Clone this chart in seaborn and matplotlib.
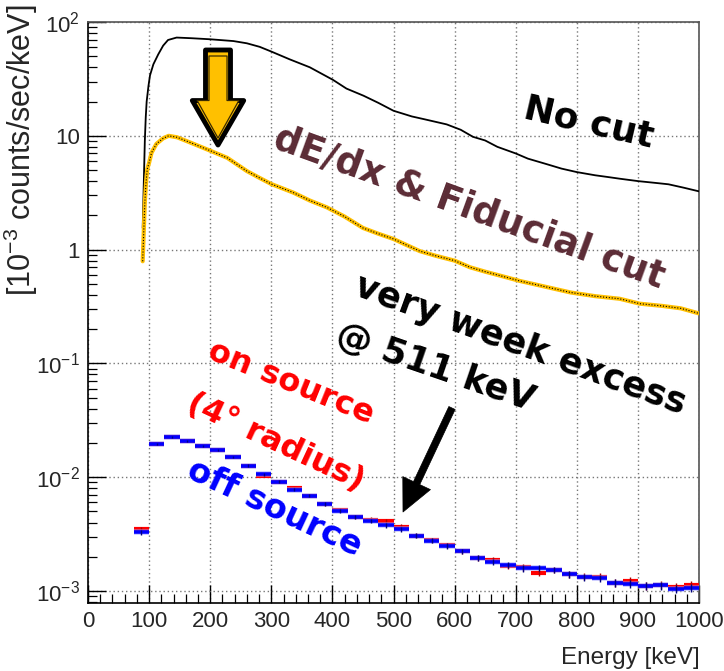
import numpy as np
import pandas as pd
import matplotlib
matplotlib.use("Agg")
import matplotlib.pyplot as plt
import seaborn as sns
from matplotlib.ticker import FixedLocator, FixedFormatter, MultipleLocator, LogLocator, NullFormatter

# ---------------- data ----------------
nocut_E = [89.5, 93, 94.5, 96, 99, 101.5, 107, 115, 123, 131, 145, 170, 200, 238, 260, 281, 300,
           330, 363, 401, 423, 451, 475, 500, 530, 550, 587, 610, 630, 650, 670, 700, 720, 750,
           775, 800, 830, 850, 870, 900, 930, 950, 975, 1000]
nocut_V = [1.55, 9.0, 14.5, 20, 27.5, 34, 42.5, 52, 62, 69.5, 73, 72, 70.5, 68, 65, 60.5, 55,
           47, 40, 31, 26, 22.5, 19.5, 16.6, 14.8, 14.0, 12.6, 11.3, 9.8, 9.1, 8.0, 7.0, 6.3, 5.65,
           5.15, 4.8, 4.5, 4.35, 4.2, 4.0, 3.85, 3.75, 3.5, 3.25]

cut_E = [89.5, 93, 95, 97, 100, 104, 112, 123, 132, 146, 168, 200, 228, 260, 281, 300, 336, 363,
         391, 420, 450, 475, 500, 543, 570, 600, 625, 650, 680, 707, 750, 790, 830, 870, 903, 940,
         970, 1000]
cut_V = [0.79, 2.6, 3.9, 5.1, 5.8, 7.1, 8.5, 9.5, 10.0, 9.7, 8.7, 7.4, 6.4, 4.9, 4.26, 3.77, 3.17,
         2.7, 2.35, 1.95, 1.55, 1.38, 1.24, 0.97, 0.88, 0.80, 0.70, 0.64, 0.58, 0.53, 0.47, 0.42,
         0.39, 0.37, 0.335, 0.32, 0.305, 0.275]

bin_width = 25
bin_lo = 75
on_source = [3.48e-3, 0.0196, 0.0226, 0.0207, 0.0190, 0.0175, 0.0150, 0.0126, 0.0103, 0.0091,
             0.0080, 0.0069, 0.00583, 0.0052, 0.0045, 0.00425, 0.00414, 0.00367, 0.00306, 0.00280,
             0.00252, 0.00223, 0.00197, 0.00188, 0.00165, 0.00162, 0.00145, 0.00153, 0.00140,
             0.00134, 0.00134, 0.00118, 0.00123, 0.00111, 0.00114, 0.00109, 0.00114]
off_source = [3.27e-3, 0.0196, 0.0224, 0.0209, 0.0190, 0.0173, 0.0150, 0.0126, 0.0106, 0.0091,
              0.0078, 0.0069, 0.00583, 0.0051, 0.0045, 0.00414, 0.00377, 0.00348, 0.00306, 0.00276,
              0.00248, 0.00223, 0.00197, 0.00181, 0.00171, 0.00158, 0.00159, 0.00153, 0.00140,
              0.00132, 0.00130, 0.00118, 0.00116, 0.00111, 0.00112, 0.00105, 0.00107]
rel_err = [0.05, 0.02, 0.02, 0.02, 0.02, 0.025, 0.025, 0.03, 0.03, 0.03, 0.035, 0.035, 0.04, 0.04,
           0.04, 0.045, 0.045, 0.05, 0.05, 0.05, 0.055, 0.055, 0.06, 0.06, 0.06, 0.065, 0.065,
           0.065, 0.07, 0.07, 0.07, 0.075, 0.075, 0.075, 0.08, 0.08, 0.08]

x_ticks = [0, 100, 200, 300, 400, 500, 600, 700, 800, 900, 1000]
y_ticks = [1e-3, 1e-2, 1e-1, 1, 10, 100]
y_ticklabels = ["10$^{-3}$", "10$^{-2}$", "10$^{-1}$", "1", "10", "10$^{2}$"]

# ---------------- style ----------------
sns.set_theme(style="white")
plt.rcParams["font.family"] = ["Liberation Sans Narrow", "Liberation Sans", "DejaVu Sans"]
plt.rcParams["mathtext.default"] = "regular"

W, H = 724, 671
fig = plt.figure(figsize=(W / 100, H / 100), dpi=100)
fig.patch.set_facecolor("white")
ax = fig.add_axes([88 / W, 1 - 603 / H, (699 - 88) / W, (603 - 22) / H])
ax.set_facecolor("white")

def px(x, y):
    return (x / W, 1 - y / H)

# curves
df_nc = pd.DataFrame({"E": nocut_E, "V": nocut_V})
df_ct = pd.DataFrame({"E": cut_E, "V": cut_V})
sns.lineplot(data=df_nc, x="E", y="V", ax=ax, color="black", lw=1.3, estimator=None, sort=False, zorder=4)
sns.lineplot(data=df_ct, x="E", y="V", ax=ax, color="#FFC000", lw=3.0, estimator=None, sort=False, zorder=4)
ax.plot(cut_E, cut_V, color="black", lw=0.8, ls=(0, (1, 1.6)), zorder=5)

# binned spectra
centers = bin_lo + bin_width / 2 + bin_width * np.arange(len(on_source))
on_arr = np.array(on_source)
off_arr = np.array(off_source)
err = np.array(rel_err)
ax.errorbar(centers, on_arr, xerr=bin_width / 2, fmt="none", ecolor="#FF0000", elinewidth=3.0, zorder=6)
ax.errorbar(centers, on_arr, yerr=on_arr * err, fmt="none", ecolor="#B00000", elinewidth=1.0, zorder=6)
ax.errorbar(centers, off_arr, xerr=bin_width / 2, fmt="none", ecolor="#9999FF", elinewidth=4.2, alpha=0.5, zorder=7)
ax.errorbar(centers, off_arr, xerr=bin_width / 2, fmt="none", ecolor="#0000FF", elinewidth=2.6, zorder=7)
ax.errorbar(centers, off_arr, yerr=off_arr * err, fmt="none", ecolor="#000080", elinewidth=1.0, zorder=7)

# axes
ax.set_yscale("log")
ax.set_xlim(0, 1000)
ax.set_ylim(7.85e-4, 100)
ax.xaxis.set_major_locator(FixedLocator(x_ticks))
ax.xaxis.set_minor_locator(MultipleLocator(20))
ax.yaxis.set_major_locator(FixedLocator(y_ticks))
ax.yaxis.set_major_formatter(FixedFormatter(y_ticklabels))
ax.yaxis.set_minor_locator(LogLocator(base=10, subs=np.arange(2, 10)))
ax.yaxis.set_minor_formatter(NullFormatter())
ax.tick_params(which="major", direction="in", length=13, width=1.0, color="black",
               labelsize=16, top=False, right=False, pad=6, bottom=True, left=True)
ax.tick_params(which="minor", direction="in", length=6.5, width=0.9, color="black",
               top=False, right=False, bottom=True, left=True)
ax.grid(True, which="major", ls=(0, (1, 2)), color="#777777", lw=1.0)
ax.set_xlabel("")
ax.set_ylabel("")
for s in ["left", "bottom"]:
    ax.spines[s].set_color("black")
    ax.spines[s].set_linewidth(1.2)
for s in ["top", "right"]:
    ax.spines[s].set_color("#555555")
    ax.spines[s].set_linewidth(1.2)

fig.text(*px(700, 664), "Energy [keV]", ha="right", va="baseline", fontsize=17.5)
fig.text(*px(21, 4), "[10$^{-3}$ counts/sec/keV]", rotation=90, ha="center", va="top", fontsize=22)

# annotations
comic = dict(family=["DejaVu Sans"], weight="bold", rotation_mode="anchor", ha="left", va="baseline")
fig.text(*px(522, 118), "No cut", rotation=-13, fontsize=26, color="black", **comic)
fig.text(*px(271, 147), "dE/dx & Fiducial cut", rotation=-20, fontsize=26.5, color="#5B2B35", **comic)
fig.text(*px(352, 294), "very week excess", rotation=-20, fontsize=25.5, color="black", **comic)
fig.text(*px(334, 343), "@ 511 keV", rotation=-19, fontsize=25.5, color="black", **comic)
fig.text(*px(206, 358), "on source", rotation=-22, fontsize=23, color="#FF0000", **comic)
fig.text(*px(185, 409), "(4° radius)", rotation=-25, fontsize=23, color="#FF0000", **comic)
fig.text(*px(185, 477), "off source", rotation=-25, fontsize=24, color="#0000FF", **comic)

# orange arrow
ax.annotate("", xy=(218, H - 145), xytext=(218, H - 50), xycoords="figure pixels",
            textcoords="figure pixels", zorder=8,
            arrowprops=dict(arrowstyle="simple,head_length=32,head_width=37,tail_width=18",
                            mutation_scale=1, fc="#FFC000", ec="black", lw=3.5,
                            shrinkA=0, shrinkB=0))
ax.annotate("", xy=(218, H - 138), xytext=(218, H - 56), xycoords="figure pixels",
            textcoords="figure pixels", zorder=9,
            arrowprops=dict(arrowstyle="simple,head_length=27,head_width=30,tail_width=13",
                            mutation_scale=1, fc="#FFC000", ec="#3a2a00", lw=0.9,
                            shrinkA=0, shrinkB=0))
# black arrow
ax.annotate("", xy=(403, H - 512), xytext=(452, H - 408), xycoords="figure pixels",
            textcoords="figure pixels", zorder=8,
            arrowprops=dict(arrowstyle="simple,head_length=23,head_width=22,tail_width=5",
                            mutation_scale=1, fc="black", ec="black", lw=0.5,
                            shrinkA=0, shrinkB=0))

fig.savefig("out.png", dpi=100, facecolor="white")
